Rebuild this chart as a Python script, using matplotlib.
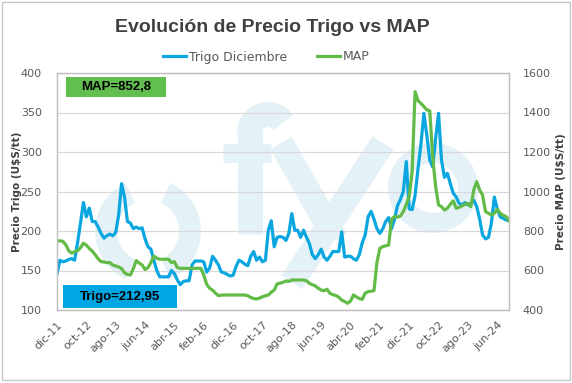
import matplotlib
matplotlib.use("Agg")
import matplotlib.pyplot as plt
import numpy as np
from matplotlib.patches import Rectangle, Arc, Circle
from matplotlib.lines import Line2D

# ---------------- data ----------------
tick_labels = ['dic-11', 'oct-12', 'ago-13', 'jun-14', 'abr-15', 'feb-16', 'dic-16', 'oct-17',
               'ago-18', 'jun-19', 'abr-20', 'feb-21', 'dic-21', 'oct-22', 'ago-23', 'jun-24']

trigo = [146, 163, 161, 162, 164, 165, 163, 185, 210, 236,
         218, 229, 212, 212, 205, 197, 191, 194, 196, 194,
         198, 220, 260, 243, 212, 210, 203, 205, 203, 204,
         190, 180, 177, 163, 150, 142, 142, 142, 142, 150,
         146, 138, 132, 136, 137, 137, 157, 162, 162, 162,
         161, 148, 153, 168, 163, 157, 148, 147, 145, 143,
         144, 155, 163, 161, 158, 156, 168, 174, 163, 167,
         161, 163, 201, 213, 180, 192, 193, 192, 188, 197,
         222, 201, 201, 192, 201, 192, 184, 170, 165, 170,
         177, 167, 163, 168, 174, 174, 174, 199, 167, 168,
         168, 165, 163, 170, 185, 195, 218, 225, 215, 203,
         197, 203, 212, 217, 203, 215, 232, 240, 250, 288,
         228, 227, 245, 279, 310, 349, 321, 290, 281, 317,
         349, 290, 268, 273, 260, 248, 243, 235, 233, 236,
         233, 235, 239, 231, 215, 195, 190, 192, 210, 243,
         228, 218, 216, 214, 212.95]

map_precio = [751, 750, 748, 730, 700, 688, 695, 700, 715, 738,
              728, 712, 698, 680, 660, 645, 643, 640, 640, 628,
              623, 618, 610, 588, 580, 577, 610, 650, 638, 628,
              605, 615, 640, 673, 662, 657, 657, 657, 657, 640,
              645, 615, 611, 611, 611, 611, 611, 611, 611, 611,
              577, 530, 510, 501, 485, 473, 475, 476, 476, 476,
              476, 476, 476, 476, 476, 472, 464, 458, 456, 460,
              467, 472, 476, 490, 501, 532, 536, 540, 547, 545,
              552, 552, 552, 552, 552, 548, 535, 528, 522, 510,
              501, 498, 505, 484, 478, 473, 465, 450, 443, 434,
              445, 476, 466, 458, 454, 485, 493, 495, 498, 640,
              712, 721, 725, 729, 860, 873, 870, 876, 898, 935,
              975, 1100, 1505, 1460, 1446, 1430, 1413, 1409, 1176, 1024,
              932, 923, 906, 915, 935, 953, 915, 920, 927, 935,
              940, 923, 1008, 1050, 1008, 982, 898, 890, 881, 890,
              910, 890, 880, 873, 852.8]

trigo_label = 'Trigo=212,95'
map_label = 'MAP=852,8'

# ---------------- style ----------------
W, H = 572, 383
BLUE = '#0AA6E0'
GREEN = '#62BB46'
GREY_TXT = '#595959'
WM = '#E4F2F7'

fig = plt.figure(figsize=(W / 100, H / 100), dpi=100)

# background layer (border + watermark)
bg = fig.add_axes([0, 0, 1, 1], zorder=0)
bg.set_xlim(0, W)
bg.set_ylim(H, 0)
bg.axis('off')
bg.add_patch(Rectangle((1.5, 1.5), W - 4, H - 5, fill=False, ec='#C8C8C8', lw=1.0))

px = 0.72  # points per pixel
# "( )" ring
for t1, t2 in [(115, 245), (-65, 65)]:
    bg.add_patch(Arc((148, 231), 84, 84, theta1=t1, theta2=t2, lw=22 * px, color=WM))
# "o"
bg.add_patch(Circle((433, 188), 35, fill=False, lw=20 * px, ec=WM))
# "f"
bg.add_line(Line2D([249.5, 249.5], [234, 131], lw=25 * px, color=WM, solid_capstyle='butt'))
a = np.radians(np.linspace(180, 35, 30))
bg.add_line(Line2D(268 + 18.5 * np.cos(a), 133 - 18.5 * np.sin(a), lw=25 * px, color=WM,
                   solid_capstyle='butt'))
bg.add_line(Line2D([223, 271], [152.5, 152.5], lw=19 * px, color=WM, solid_capstyle='butt'))
# "y"
bg.add_line(Line2D([281, 336], [143, 240], lw=25 * px, color=WM, solid_capstyle='butt'))
bg.add_line(Line2D([383, 292], [143, 282], lw=25 * px, color=WM, solid_capstyle='butt'))

# main axes
L, R, T, B = 57, 509, 73, 310
ax = fig.add_axes([L / W, (H - B) / H, (R - L) / W, (B - T) / H], zorder=1)
ax.patch.set_alpha(0)
ax2 = ax.twinx()

x = np.arange(len(trigo))
ax.plot(x, trigo, color=BLUE, lw=2.3, solid_joinstyle='round')
ax2.plot(x, map_precio, color=GREEN, lw=2.3, solid_joinstyle='round')

ax.set_xlim(0, len(trigo) - 1)
ax.set_ylim(100, 400)
ax.set_yticks(np.arange(100, 401, 50))
ax2.set_ylim(400, 1600)
ax2.set_yticks(np.arange(400, 1601, 200))
ax.set_xticks(np.arange(0, len(trigo), 10))
ax.set_xticklabels(tick_labels, rotation=45, ha='right', rotation_mode='anchor')

ax.grid(axis='y', color='#D9D9D9', lw=0.9)
ax.set_axisbelow(True)
for a_ in (ax, ax2):
    for s in a_.spines.values():
        s.set_color('#C0C0C0')
        s.set_linewidth(0.9)
ax.tick_params(axis='both', length=0, labelsize=8, labelcolor=GREY_TXT)
ax.tick_params(axis='y', pad=11)
ax.tick_params(axis='x', pad=7)
ax2.tick_params(axis='y', length=0, labelsize=8, labelcolor=GREY_TXT, pad=10)

fig.text(17 / W, 1 - 192 / H, 'Precio Trigo (U$S/tt)', rotation=90, ha='center', va='center',
         fontsize=7.5, fontweight='bold', color='#404040')
fig.text(561 / W, 1 - 192 / H, 'Precio MAP (U$S/tt)', rotation=90, ha='center', va='center',
         fontsize=7.5, fontweight='bold', color='#404040')

# title
fig.text(272 / W, 1 - 31.5 / H, 'Evolución de Precio Trigo vs MAP', ha='center', va='baseline',
         fontsize=14, fontweight='bold', family='Liberation Sans', color='#404040')

# legend
handles = [Line2D([], [], color=BLUE, lw=2.3), Line2D([], [], color=GREEN, lw=2.3)]
fig.legend(handles, ['Trigo Diciembre', 'MAP'], loc='center', bbox_to_anchor=(266 / W, 1 - 57 / H),
           ncol=2, frameon=False, fontsize=9, handlelength=1.85, handletextpad=0.2,
           columnspacing=2.4, labelcolor=GREY_TXT)

# foreground value boxes
fg = fig.add_axes([0, 0, 1, 1], zorder=3)
fg.set_xlim(0, W)
fg.set_ylim(H, 0)
fg.axis('off')
fg.patch.set_visible(False)
fg.add_patch(Rectangle((66, 77), 100, 20, color='#62BE4E', lw=0))
fg.text(116, 87.5, map_label, ha='center', va='center', fontsize=9.5, fontweight='bold',
        family='Liberation Sans', color='black')
fg.add_patch(Rectangle((63, 285), 114, 23, color='#00A6E4', lw=0))
fg.text(120, 296.8, trigo_label, ha='center', va='center', fontsize=9.5, fontweight='bold',
        family='Liberation Sans', color='black')

fig.savefig('out.png', dpi=100)
